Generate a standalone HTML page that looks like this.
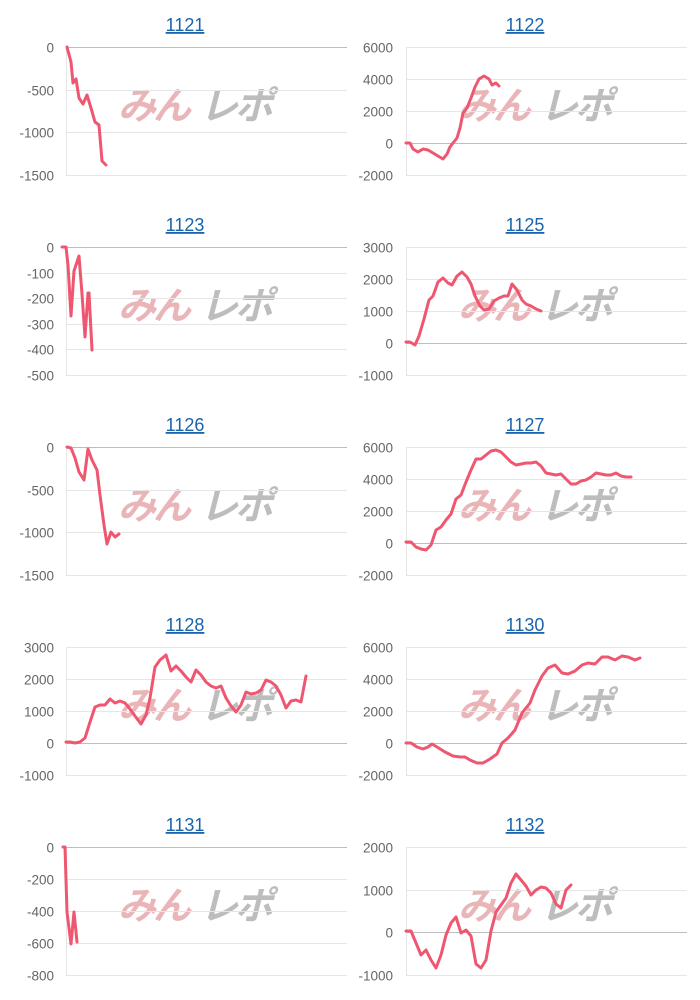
<!DOCTYPE html>
<html><head><meta charset="utf-8"><style>
html,body{margin:0;padding:0;background:#fff;}
svg{display:block;}
.t{font-family:"Liberation Sans",sans-serif;font-size:18px;fill:#1a63ad;text-decoration:underline;}
.y{font-family:"Liberation Sans",sans-serif;font-size:13.5px;fill:#666;text-anchor:end;}
.g{stroke:#e6e6e6;stroke-width:1;}
.z{stroke:#bdbdbd;stroke-width:1;}
.l{fill:none;stroke:#ef5670;stroke-width:3;stroke-linejoin:round;stroke-linecap:round;}
.w1{font-family:"Liberation Sans","Noto Sans CJK JP",sans-serif;font-size:38px;font-weight:bold;font-style:italic;fill:#e9b5b8;letter-spacing:-3px;}
.w2{font-family:"Liberation Sans","Noto Sans CJK JP",sans-serif;font-size:38px;font-weight:bold;font-style:italic;fill:#bdbdbd;letter-spacing:-3px;}
</style></head><body>
<svg width="700" height="1000" xmlns="http://www.w3.org/2000/svg">
<g id="cells"></g>
</svg>
<script>
const cells=[
 {t:"1121",c:0,r:0,ticks:["0","-500","-1000","-1500"],zero:0,
  p:[[67,47],[71,62],[73,83],[76,79],[79,98],[83,104],[87,95],[91,108],[95,122],[99,125],[102,161],[106,165]]},
 {t:"1122",c:1,r:0,ticks:["6000","4000","2000","0","-2000"],zero:3,
  p:[[406,143],[410,143],[413,149],[418,152],[423,149],[428,150],[433,153],[438,156],[443,159],[447,154],[450,147],[453,143],[457,138],[460,128],[463,113],[467,108],[471,98],[475,87],[479,79],[484,76],[489,79],[492,85],[496,83],[499,86]]},
 {t:"1123",c:0,r:1,ticks:["0","-100","-200","-300","-400","-500"],zero:0,
  p:[[62,247],[66,247],[68,265],[71,316],[74,271],[79,256],[82,294],[85,337],[88,293],[89,293],[92,350]]},
 {t:"1125",c:1,r:1,ticks:["3000","2000","1000","0","-1000"],zero:3,
  p:[[406,342],[410,342],[415,345],[419,336],[424,319],[429,300],[433,296],[438,282],[443,278],[448,283],[452,285],[457,276],[462,272],[467,277],[471,284],[475,296],[480,306],[484,310],[489,309],[494,301],[499,298],[504,296],[508,296],[512,284],[517,290],[522,300],[526,304],[531,306],[536,309],[541,311]]},
 {t:"1126",c:0,r:2,ticks:["0","-500","-1000","-1500"],zero:0,
  p:[[67,447],[71,448],[75,458],[79,472],[84,480],[88,449],[92,460],[97,470],[100,495],[104,525],[107,544],[111,532],[115,537],[119,534]]},
 {t:"1127",c:1,r:2,ticks:["6000","4000","2000","0","-2000"],zero:3,
  p:[[406,542],[411,542],[416,547],[421,549],[426,550],[431,545],[436,530],[441,527],[446,520],[451,514],[456,499],[461,495],[466,482],[471,470],[476,459],[481,459],[486,455],[491,451],[496,450],[501,452],[506,457],[511,462],[516,465],[521,464],[526,463],[531,463],[536,462],[541,466],[546,473],[551,474],[556,475],[561,474],[566,479],[571,484],[576,484],[581,481],[586,480],[591,477],[596,473],[601,474],[606,475],[611,475],[616,473],[621,476],[626,477],[631,477]]},
 {t:"1128",c:0,r:3,ticks:["3000","2000","1000","0","-1000"],zero:3,
  p:[[66,742],[70,742],[75,743],[80,742],[85,738],[90,722],[95,707],[100,705],[105,705],[110,699],[115,703],[120,701],[125,703],[130,709],[135,716],[141,724],[146,715],[150,698],[155,667],[160,660],[166,655],[171,671],[176,666],[181,671],[186,677],[191,682],[196,670],[201,675],[206,682],[211,686],[216,688],[221,686],[226,698],[231,706],[236,712],[241,705],[246,692],[251,694],[256,693],[261,690],[266,680],[271,682],[276,686],[281,695],[286,708],[291,701],[296,700],[301,702],[306,676]]},
 {t:"1130",c:1,r:3,ticks:["6000","4000","2000","0","-2000"],zero:3,
  p:[[406,743],[411,743],[417,747],[423,749],[428,747],[432,744],[437,747],[445,752],[453,756],[460,757],[465,757],[470,760],[477,763],[483,763],[490,759],[497,754],[502,743],[508,738],[515,730],[522,713],[530,703],[535,690],[542,676],[548,668],[555,665],[562,673],[568,674],[575,671],[582,665],[588,663],[595,664],[602,657],[608,657],[615,660],[622,656],[628,657],[635,660],[640,658]]},
 {t:"1131",c:0,r:4,ticks:["0","-200","-400","-600","-800"],zero:0,
  p:[[63,847],[65,847],[67,912],[71,944],[74,912],[77,942]]},
 {t:"1132",c:1,r:4,ticks:["2000","1000","0","-1000"],zero:2,
  p:[[406,931],[411,931],[416,943],[421,955],[426,950],[431,960],[436,968],[441,955],[446,935],[451,923],[456,917],[461,933],[466,930],[471,936],[476,964],[481,968],[486,960],[491,931],[496,912],[501,905],[506,898],[511,883],[516,874],[521,880],[526,886],[531,895],[536,890],[541,887],[546,888],[551,893],[556,904],[561,908],[566,890],[571,885]]}
];
let s="";
for(const c of cells){
  const oy=c.r*200;
  const x0=c.c?406:66, x1=c.c?687:347, lx=c.c?393:54;
  const tx=c.c?525:185;
  s+=`<text class="t" x="${tx}" y="${oy+31}" text-anchor="middle">${c.t}</text>`;
  const top=oy+47, bot=oy+175, n=c.ticks.length-1;
  s+=`<line class="g" x1="${x0+0.5}" y1="${top}" x2="${x0+0.5}" y2="${bot+1}"/>`;
  s+=`<text class="w1" x="${x0+52}" y="${oy+119}">みん</text><text class="w2" x="${x0+134}" y="${oy+119}">レポ</text>`;
  c.ticks.forEach((t,i)=>{
    const y=Math.round(top+(bot-top)*i/n)+0.5;
    s+=`<line class="${i==c.zero?'z':'g'}" x1="${x0}" y1="${y}" x2="${x1}" y2="${y}"/>`;
    s+=`<text class="y" x="${lx}" y="${y+5}">${t}</text>`;
  });
  s+=`<polyline class="l" points="${c.p.map(q=>q.join(',')).join(' ')}"/>`;
}
document.getElementById("cells").innerHTML=s;
</script>
</body></html>
